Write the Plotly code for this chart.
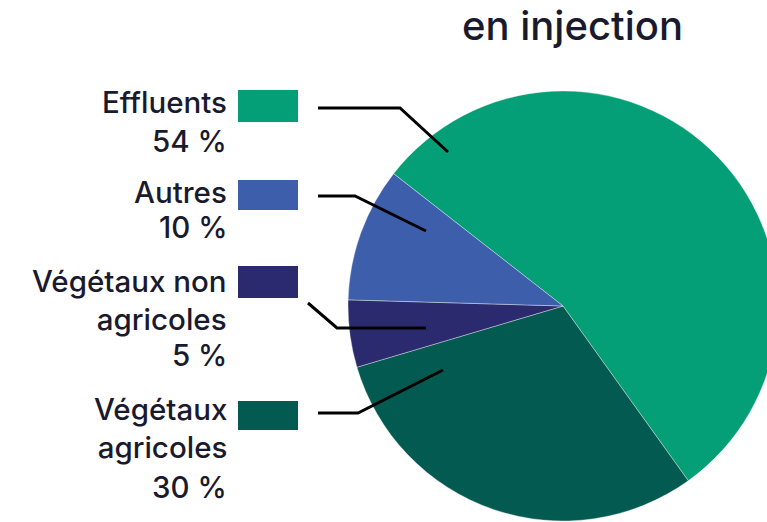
import plotly.graph_objects as go

# ---- data ----
categories = ["Effluents", "Végétaux agricoles", "Végétaux non agricoles", "Autres"]
values = [54, 30, 5, 10]
pct_labels = ["54 %", "30 %", "5 %", "10 %"]
colors = ["#049f76", "#035a50", "#2b2a6e", "#3d5eab"]
title_text = "en injection"

W, H = 780, 522
FONT = "Inter"
TXT = "#1a1a2e"

def px(x):
    return x / W

def py(y):
    return 1 - y / H

cx, cy, r = 563, 306, 215

fig = go.Figure(go.Pie(
    labels=categories,
    values=values,
    sort=False,
    direction="clockwise",
    rotation=-52,
    marker=dict(colors=colors, line=dict(color="rgba(255,255,255,0.6)", width=0.6)),
    textinfo="none",
    hoverinfo="label+percent",
    showlegend=False,
    domain=dict(x=[px(cx - r), px(cx + r)], y=[py(cy + r), py(cy - r)]),
))

annotations = []
shapes = []

def text(x, y, s, size=28, anchor="right"):
    annotations.append(dict(
        x=px(x), y=py(y), xref="paper", yref="paper", text=s, showarrow=False,
        xanchor=anchor, yanchor="middle", align="right",
        font=dict(family=FONT, size=size, color=TXT, weight=500)))

# legend blocks: (category index, name lines, mean baseline of name lines, pct baseline, box top, box bottom, connector path)
blocks = [
    (0, ["Effluents"], 113, 152, 90, 122, [(318, 108), (400, 108), (448, 152)]),
    (3, ["Autres"], 203, 238, 180, 210, [(318, 196), (355, 196), (426, 231)]),
    (2, ["Végétaux non", "agricoles"], 311, 366, 266, 298, [(308, 303), (337, 328), (426, 328)]),
    (1, ["Végétaux", "agricoles"], 439, 498, 401, 430, [(318, 413), (358, 413), (443, 370)]),
]

FS = 29.5
for idx, lines, base, pbase, bt, bb, path in blocks:
    off = 0.36 * FS
    text(229, base - off, "<br>".join(lines), FS)
    text(229, pbase - off, pct_labels[idx], FS)
    shapes.append(dict(type="rect", xref="paper", yref="paper",
                       x0=px(238), x1=px(298), y0=py(bb), y1=py(bt),
                       fillcolor=colors[idx], line=dict(width=0)))
    d = "M " + " L ".join(f"{px(x):.5f},{py(y):.5f}" for x, y in path)
    shapes.append(dict(type="path", xref="paper", yref="paper", path=d,
                       line=dict(color="#000000", width=3)))

# title
annotations.append(dict(x=px(572), y=py(40 - 0.36 * 40), xref="paper", yref="paper",
                        text=title_text, showarrow=False, xanchor="center", yanchor="middle",
                        font=dict(family=FONT, size=40, color=TXT, weight=500)))

fig.update_layout(
    width=W, height=H,
    margin=dict(l=0, r=0, t=0, b=0, pad=0),
    paper_bgcolor="white", plot_bgcolor="white",
    annotations=annotations, shapes=shapes,
)

fig.write_html("out.html", config={"displayModeBar": False},
               post_script="document.body.style.margin='0';document.body.style.overflow='hidden';")
